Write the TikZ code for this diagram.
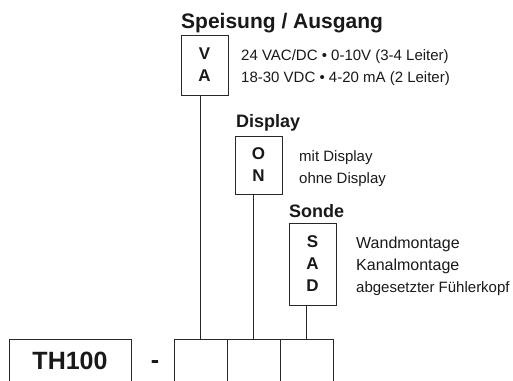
\documentclass[tikz,border=0pt]{standalone}
\usepackage{fontspec}
\setsansfont{Liberation Sans}
\usetikzlibrary{positioning}
\definecolor{tLine}{RGB}{40, 40, 40}
\definecolor{tDark}{RGB}{25, 25, 25}

\begin{document}
\begin{tikzpicture}[
    x=1pt, y=-1pt,
    font=\sffamily,
    text=tDark,
    codebox/.style={
        draw=tLine,
        line width=1pt,
        minimum width=47pt,
        minimum height=#1,
        align=center,
        inner sep=0pt,
        outer sep=0pt,
        font=\sffamily\bfseries\fontsize{17}{22}\selectfont
    },
    slot/.style={draw=tLine, line width=1pt, minimum width=53pt, minimum height=50pt, inner sep=0pt, outer sep=0pt},
    head/.style={inner sep=0pt, font=\sffamily\bfseries\fontsize{#1}{#1}\selectfont},
    desc/.style={anchor=base west, align=left, inner sep=0pt, font=\sffamily\fontsize{#1}{22}\selectfont},
    link/.style={draw=tLine, line width=1pt}
]
\useasboundingbox (0,0) rectangle (513,380);
\clip (0,0) rectangle (513,380);

% option boxes
\node[codebox=60pt, anchor=north west] (va) at (181,35) {V\\A};
\node[codebox=58pt, anchor=north west] (on) at (235,136) {O\\N};
\node[codebox=82pt, anchor=north west] (sad) at (289,223) {S\\A\\D};

% group titles
\node[head=21, above right=7pt and 0pt of va.north west, anchor=base west] (tSupply) {Speisung / Ausgang};
\node[head=18, above right=9pt and 1pt of on.north west, anchor=base west] (tDisplay) {Display};
\node[head=18, above right=6pt and 0pt of sad.north west, anchor=base west] (tProbe) {Sonde};

% descriptions (base = last line)
\node[desc=15] (dSupply) at (241,82) {24 VAC/DC • 0-10V (3-4 Leiter)\\18-30 VDC • 4-20 mA (2 Leiter)};
\node[desc=15] (dDisplay) at (299,183) {mit Display\\ohne Display};
\node[desc=16] (dProbe) at (356,292) {Wandmontage\\Kanalmontage\\{\fontsize{15}{22}\selectfont abgesetzter Fühlerkopf}};

% order code
\node[slot, minimum width=122pt, minimum height=43pt, anchor=north west,
      font=\sffamily\bfseries\fontsize{25}{25}\selectfont] (model) at (9,339) {TH100};
\node[inner sep=0pt, anchor=base, font=\sffamily\bfseries\fontsize{25}{25}\selectfont] (dash) at (155,368) {-};
\node[slot, anchor=north west] (s1) at (174,339) {};
\node[slot, right=0pt of s1] (s2) {};
\node[slot, right=0pt of s2] (s3) {};

\draw[link] (s1.north) -- (s1.north |- va.south);
\draw[link] (s2.north) -- (s2.north |- on.south);
\draw[link] (s3.north) -- (s3.north |- sad.south);

\end{tikzpicture}
\end{document}
